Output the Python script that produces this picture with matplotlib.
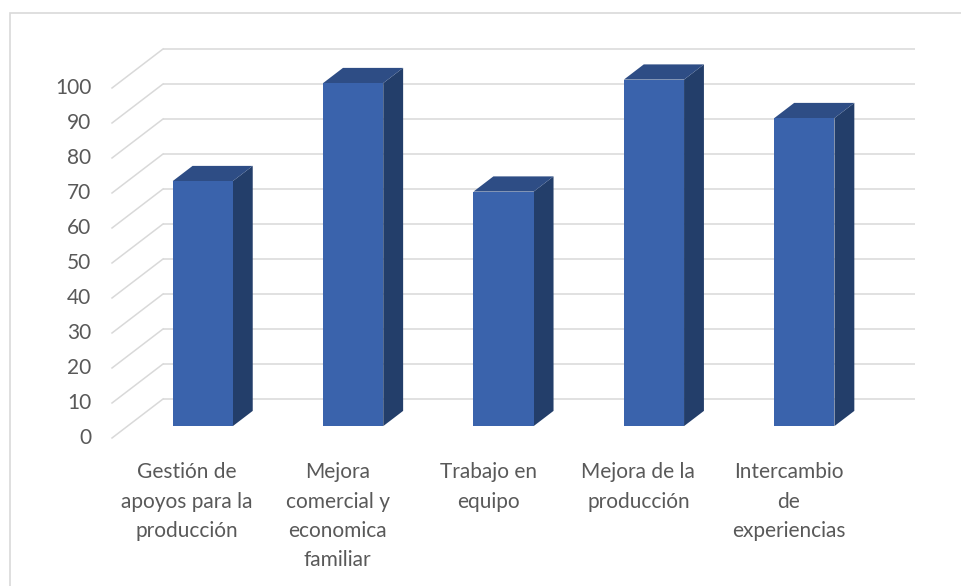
import matplotlib
matplotlib.use("Agg")
import matplotlib.pyplot as plt
from matplotlib.patches import Polygon, Rectangle

categories = ["Gestión de\napoyos para la\nproducción",
              "Mejora\ncomercial y\neconomica\nfamiliar",
              "Trabajo en\nequipo",
              "Mejora de la\nproducción",
              "Intercambio\nde\nexperiencias"]
values = [70, 98, 67, 99, 88]
yticks = list(range(0, 101, 10))

# colours of the Excel style 3D column
front_col = "#3A63AC"
top_col = "#2E4D85"
side_col = "#233E6A"
grid_col = "#D9D9D9"
text_col = "#595959"

W, H = 962, 586
fig = plt.figure(figsize=(W / 100, H / 100), dpi=100)
fig.patch.set_facecolor("white")

# back wall of the plot
ax = fig.add_axes([163 / W, (H - 399) / H, 752 / W, 350 / H])
ax.set_xlim(-0.5, len(values) - 0.5)
ax.set_ylim(0, 100)
ax.axis("off")

# depth of the floor in data units (back -> front)
DX = -0.339
DY = -11.14


def pt(x, v, d):
    # d = 0 back wall, d = 1 front edge
    return (x + DX * d, v + DY * d)


x0, x1 = -0.5, len(values) - 0.5
for t in yticks:
    ax.plot([x0, x1], [t, t], color=grid_col, lw=1.1, zorder=1, clip_on=False,
            solid_capstyle="butt")
    a, b = pt(x0, t, 1), pt(x0, t, 0)
    ax.plot([a[0], b[0]], [a[1], b[1]], color=grid_col, lw=1.1, zorder=1,
            clip_on=False)
    ax.annotate(str(t), xy=a, xytext=(-15, 0), textcoords="offset points",
                ha="right", va="center", fontsize=15, color=text_col,
                family=["Lato", "DejaVu Sans"], annotation_clip=False)

half = 0.2
dfront, dback = 0.695, 0.305
for i, v in enumerate(values):
    l, r = i - half, i + half
    front = [pt(l, 0, dfront), pt(r, 0, dfront), pt(r, v, dfront), pt(l, v, dfront)]
    top = [pt(l, v, dfront), pt(r, v, dfront), pt(r, v, dback), pt(l, v, dback)]
    side = [pt(r, 0, dfront), pt(r, 0, dback), pt(r, v, dback), pt(r, v, dfront)]
    ax.add_patch(Polygon(side, closed=True, facecolor=side_col, edgecolor="none",
                         zorder=3, clip_on=False))
    ax.add_patch(Polygon(top, closed=True, facecolor=top_col, edgecolor="none",
                         zorder=3, clip_on=False))
    ax.add_patch(Polygon(front, closed=True, facecolor=front_col, edgecolor="none",
                         zorder=4, clip_on=False))

for i, c in enumerate(categories):
    ax.annotate(c, xy=pt(i, 0, 1), xytext=(0, -17.5), textcoords="offset points",
                ha="center", va="top", fontsize=15, color=text_col,
                linespacing=1.58, family=["Lato", "DejaVu Sans"],
                annotation_clip=False)

# chart area border (only top and left visible in the crop)
fig.add_artist(Rectangle((10 / W, -0.1), 1.2, (H - 13) / H + 0.1,
                         transform=fig.transFigure, facecolor="none",
                         edgecolor=grid_col, lw=1.2))

fig.savefig("out.png", dpi=100)
